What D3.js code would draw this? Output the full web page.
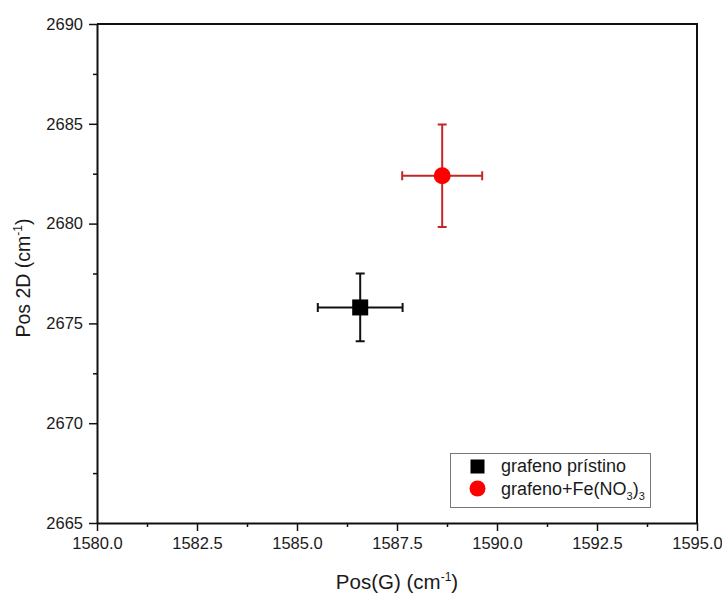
<!DOCTYPE html>
<html><head><meta charset="utf-8">
<script src="https://cdn.jsdelivr.net/npm/d3@7"></script>
<style>body{margin:0;background:#fff}svg{display:block}text{font-family:"Liberation Sans",Arial,sans-serif;fill:#1a1a1a}</style>
</head><body><svg id="c" width="722" height="595"></svg>
<script>
const seriesNames = ["grafeno prístino", "grafeno+Fe(NO3)3"];
const posG = [1586.58, 1588.63];
const posGErr = [1.06, 1.0];
const pos2D = [2675.8, 2682.4];
const pos2DErr = [1.7, 2.57];
const xTicks = [1580.0, 1582.5, 1585.0, 1587.5, 1590.0, 1592.5, 1595.0];
const yTicks = [2665, 2670, 2675, 2680, 2685, 2690];

const svg = d3.select("#c");
const L = 97, R = 697, T = 24, B = 523;
const x = d3.scaleLinear().domain([1580, 1595]).range([L, R]);
const y = d3.scaleLinear().domain([2665, 2690]).range([B, T]);

// minor ticks
const xMinor = d3.range(1581.25, 1595, 2.5);
const yMinor = d3.range(2667.5, 2690, 5);
svg.append("g").attr("transform", `translate(0,${B})`)
  .call(d3.axisBottom(x).tickValues(xMinor).tickSize(4).tickFormat(""))
  .call(g => g.select(".domain").remove())
  .selectAll("line").attr("stroke", "#111").attr("stroke-width", 1.5);
svg.append("g").attr("transform", `translate(${L},0)`)
  .call(d3.axisLeft(y).tickValues(yMinor).tickSize(4).tickFormat(""))
  .call(g => g.select(".domain").remove())
  .selectAll("line").attr("stroke", "#111").attr("stroke-width", 1.5);

const xa = svg.append("g").attr("transform", `translate(0,${B})`)
  .call(d3.axisBottom(x).tickValues(xTicks).tickSize(8).tickSizeOuter(0).tickPadding(6).tickFormat(d3.format(".1f")));
const ya = svg.append("g").attr("transform", `translate(${L},0)`)
  .call(d3.axisLeft(y).tickValues(yTicks).tickSize(8).tickSizeOuter(0).tickPadding(6).tickFormat(d3.format("d")));
[xa, ya].forEach(a => {
  a.selectAll("text").attr("font-size", 16.5).attr("font-family", "Liberation Sans, Arial, sans-serif").attr("fill", "#1a1a1a");
  a.selectAll("line").attr("stroke", "#111").attr("stroke-width", 1.5);
  a.select(".domain").attr("stroke", "#111").attr("stroke-width", 2);
});
// top & right frame
svg.append("path").attr("d", `M${L},${T}H${R}V${B}`).attr("fill", "none").attr("stroke", "#111").attr("stroke-width", 2);

// titles
const xt = svg.append("text").attr("x", 397).attr("y", 589).attr("text-anchor", "middle").attr("font-size", 20.5);
xt.append("tspan").text("Pos(G) (cm");
xt.append("tspan").attr("font-size", 12).attr("dy", -8).text("-1");
xt.append("tspan").attr("dy", 8).text(")");
const yt = svg.append("text").attr("transform", "translate(30,278) rotate(-90)").attr("text-anchor", "middle").attr("font-size", 19.5);
yt.append("tspan").text("Pos 2D (cm");
yt.append("tspan").attr("font-size", 12).attr("dy", -8).text("-1");
yt.append("tspan").attr("dy", 8).text(")");

// error bars
const colors = ["#000", "#ff0000"];
const errColors = ["#111", "#c0282a"];
const cap = 4.5;
posG.forEach((g, i) => {
  const cx = x(g), cy = y(pos2D[i]);
  const gg = svg.append("g").attr("stroke", errColors[i]).attr("stroke-width", 2).attr("fill", "none");
  const x0 = x(g - posGErr[i]), x1 = x(g + posGErr[i]);
  const y0 = y(pos2D[i] - pos2DErr[i]), y1 = y(pos2D[i] + pos2DErr[i]);
  gg.append("path").attr("d", `M${x0},${cy}H${x1}M${x0},${cy-cap}V${cy+cap}M${x1},${cy-cap}V${cy+cap}`);
  gg.append("path").attr("d", `M${cx},${y0}V${y1}M${cx-cap},${y0}H${cx+cap}M${cx-cap},${y1}H${cx+cap}`);
});
// markers
svg.append("rect").attr("x", x(posG[0]) - 8).attr("y", y(pos2D[0]) - 8).attr("width", 16).attr("height", 16).attr("fill", colors[0]);
svg.append("circle").attr("cx", x(posG[1])).attr("cy", y(pos2D[1])).attr("r", 8.5).attr("fill", colors[1]);

// legend
const lg = svg.append("g");
lg.append("rect").attr("x", 450.5).attr("y", 453.5).attr("width", 200).attr("height", 54).attr("fill", "#fff").attr("stroke", "#777").attr("stroke-width", 1);
lg.append("rect").attr("x", 477.5 - 7).attr("y", 466.5 - 7).attr("width", 14).attr("height", 14).attr("fill", colors[0]);
lg.append("circle").attr("cx", 477.5).attr("cy", 488.5).attr("r", 8).attr("fill", colors[1]);
lg.append("text").attr("x", 501).attr("y", 472).attr("font-size", 18).text(seriesNames[0]);
const t2 = lg.append("text").attr("x", 501).attr("y", 495).attr("font-size", 18);
t2.append("tspan").text("grafeno+Fe(NO");
t2.append("tspan").attr("font-size", 11).attr("dy", 5).text("3");
t2.append("tspan").attr("dy", -5).text(")");
t2.append("tspan").attr("font-size", 11).attr("dy", 5).text("3");
</script></body></html>
